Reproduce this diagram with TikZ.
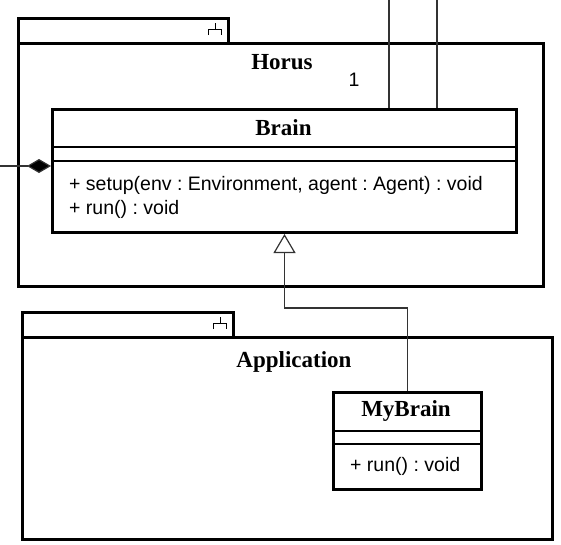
\documentclass[tikz,border=0pt]{standalone}
\usepackage{fontspec}
\setmainfont{Liberation Serif}
\setsansfont{Liberation Sans}
\usetikzlibrary{arrows.meta,positioning}
\frenchspacing

\begin{document}
\begin{tikzpicture}[x=1pt,y=-1pt,
    pkg/.style={draw,line width=3pt,inner sep=0pt,anchor=north west},
    cls/.style={draw,line width=3pt,fill=white,inner sep=0pt,anchor=north west},
    title/.style={font=\fontsize{23}{27}\selectfont\bfseries,inner sep=0pt},
    member/.style={font=\fontsize{19.5}{23}\selectfont\sffamily,anchor=west,inner sep=0pt},
    sep/.style={line width=1.5pt},
    link/.style={line width=1.2pt,draw=black!80},
    pkgicon/.pic={\draw[line width=1pt] (0,0) -- (0,6) (-6.5,12) -- (-6.5,6) -- (6.5,6) -- (6.5,12);}]
  \useasboundingbox (0,0) rectangle (561,544);

  % Horus package
  \node[pkg,minimum width=210pt,minimum height=25pt] (horustab) at (17,17) {};
  \node[pkg,minimum width=525pt,minimum height=243pt] (horus) at (17,42) {};
  \pic at ([xshift=-15pt,yshift=-6pt]horustab.north east) {pkgicon};
  \node[title] (horustitle) at (282,62) {Horus};
  \node[font=\fontsize{19.5}{23}\selectfont\sffamily] (mult) at (354,80) {1};

  % class Brain
  \node[cls,minimum width=464pt,minimum height=123pt] (brain) at (51,108) {};
  \node[title] (braintitle) at (283.5,128) {Brain};
  \draw[sep] ([yshift=-39pt]brain.north west) -- ([yshift=-39pt]brain.north east);
  \draw[sep] ([yshift=-53pt]brain.north west) -- ([yshift=-53pt]brain.north east);
  \node[member] (setup) at (69,185) {+ setup(env : Environment, agent : Agent) : void};
  \node[member] (run) at (69,209) {+ run() : void};

  % Application package
  \node[pkg,minimum width=211pt,minimum height=25pt] (apptab) at (21,311) {};
  \node[pkg,minimum width=530pt,minimum height=202pt] (app) at (21,336) {};
  \pic at ([xshift=-15pt,yshift=-6pt]apptab.north east) {pkgicon};
  \node[title] (apptitle) at (294,362) {Application};

  % class MyBrain
  \node[cls,minimum width=148pt,minimum height=97pt] (mybrain) at (332,391) {};
  \node[title] (mybraintitle) at (406,411) {MyBrain};
  \draw[sep] ([yshift=-40pt]mybrain.north west) -- ([yshift=-40pt]mybrain.north east);
  \draw[sep] ([yshift=-53pt]mybrain.north west) -- ([yshift=-53pt]mybrain.north east);
  \node[member] (myrun) at (350,466) {+ run() : void};

  % connectors
  \coordinate (extA) at (389,0);
  \coordinate (extB) at (437,0);
  \coordinate (extC) at (0,166);
  \draw[link] (extA) -- (extA |- brain.north);
  \draw[link] (extB) -- (extB |- brain.north);
  \draw[link,-{Diamond[fill=black,length=24pt,width=14pt]}] (extC) -- (extC -| brain.west);
  \draw[link,-{Triangle[open,fill=white,length=19pt,width=22pt]}] (mybrain.north) -- ++(0,-83) -| (brain.south);
\end{tikzpicture}
\end{document}
